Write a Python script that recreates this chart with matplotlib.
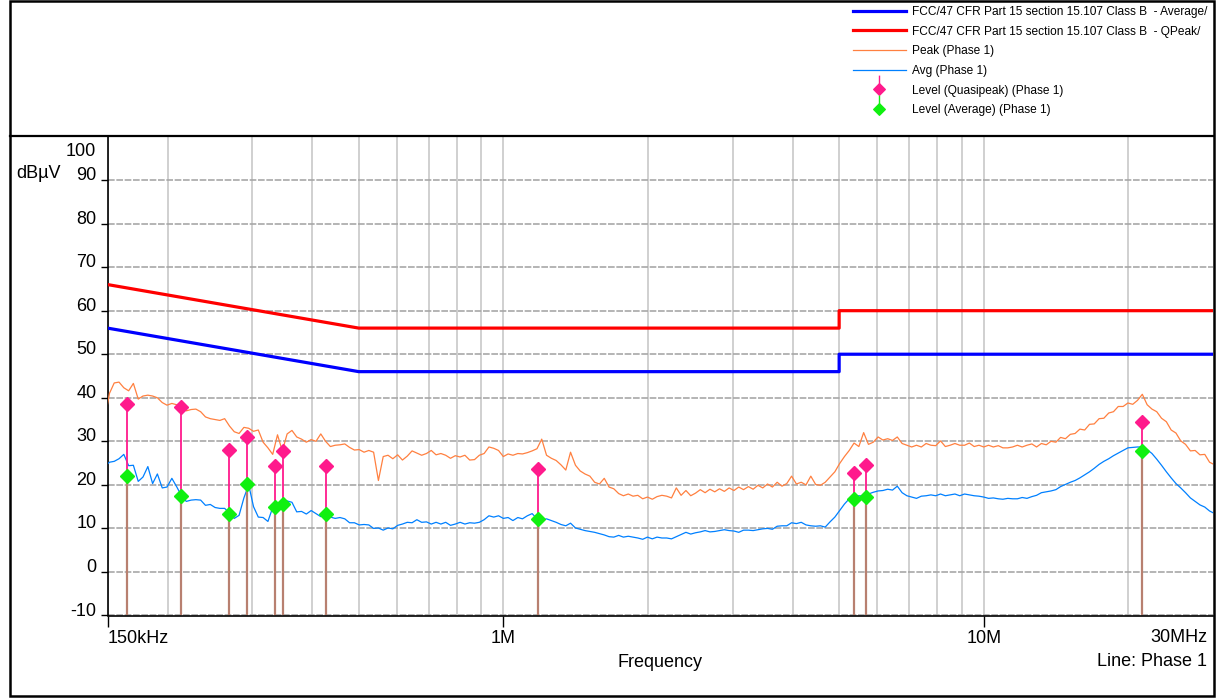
import matplotlib
matplotlib.use('Agg')
import matplotlib.pyplot as plt
from matplotlib.lines import Line2D
from matplotlib.patches import Rectangle
from matplotlib.path import Path
from matplotlib.ticker import NullFormatter

plt.rcParams['font.family'] = ['Liberation Sans', 'DejaVu Sans']

# Sweep frequencies (MHz)
freq_mhz = [
    0.15,
    0.1514, 0.1549, 0.1585, 0.1622, 0.1660, 0.1698, 0.1738, 0.1778, 0.1820, 0.1862,
    0.1905, 0.1950, 0.1995, 0.2042, 0.2089, 0.2138, 0.2188, 0.2239, 0.2291, 0.2344,
    0.2399, 0.2455, 0.2512, 0.2570, 0.2630, 0.2692, 0.2754, 0.2818, 0.2884, 0.2951,
    0.3020, 0.3090, 0.3162, 0.3236, 0.3311, 0.3388, 0.3467, 0.3548, 0.3631, 0.3715,
    0.3802, 0.3890, 0.3981, 0.4074, 0.4169, 0.4266, 0.4365, 0.4467, 0.4571, 0.4677,
    0.4786, 0.4898, 0.5012, 0.5129, 0.5248, 0.5370, 0.5495, 0.5623, 0.5754, 0.5888,
    0.6026, 0.6166, 0.6310, 0.6457, 0.6607, 0.6761, 0.6918, 0.7079, 0.7244, 0.7413,
    0.7586, 0.7762, 0.7943, 0.8128, 0.8318, 0.8511, 0.8710, 0.8913, 0.9120, 0.9333,
    0.9550, 0.9772,
    1.000, 1.023, 1.047, 1.072, 1.096, 1.122, 1.148, 1.175, 1.202, 1.230,
    1.259, 1.288, 1.318, 1.349, 1.380, 1.413, 1.445, 1.479, 1.514, 1.549,
    1.585, 1.622, 1.660, 1.698, 1.738, 1.778, 1.820, 1.862, 1.905, 1.950,
    1.995, 2.042, 2.089, 2.138, 2.188, 2.239, 2.291, 2.344, 2.399, 2.455,
    2.512, 2.570, 2.630, 2.692, 2.754, 2.818, 2.884, 2.951, 3.020, 3.090,
    3.162, 3.236, 3.311, 3.388, 3.467, 3.548, 3.631, 3.715, 3.802, 3.890,
    3.981, 4.074, 4.169, 4.266, 4.365, 4.467, 4.571, 4.677, 4.786, 4.898,
    5.012, 5.129, 5.248, 5.370, 5.495, 5.623, 5.754, 5.888, 6.026, 6.166,
    6.310, 6.457, 6.607, 6.761, 6.918, 7.079, 7.244, 7.413, 7.586, 7.762,
    7.943, 8.128, 8.318, 8.511, 8.710, 8.913, 9.120, 9.333, 9.550, 9.772,
    10.00, 10.23, 10.47, 10.72, 10.96, 11.22, 11.48, 11.75, 12.02, 12.30,
    12.59, 12.88, 13.18, 13.49, 13.80, 14.13, 14.45, 14.79, 15.14, 15.49,
    15.85, 16.22, 16.60, 16.98, 17.38, 17.78, 18.20, 18.62, 19.05, 19.50,
    19.95, 20.42, 20.89, 21.38, 21.88, 22.39, 22.91, 23.44, 23.99, 24.55,
    25.12, 25.70, 26.30, 26.92, 27.54, 28.18, 28.84, 29.51,
    30.0,
]

# Peak (Phase 1) trace, dBuV
peak_dbuv = [
    38.5,
    41.0, 43.4, 43.6, 42.3, 41.6, 43.3, 39.7, 40.4, 40.6, 40.4,
    40.0, 38.9, 38.3, 38.7, 38.4, 37.9, 37.0, 37.3, 37.4, 36.8,
    35.6, 35.2, 35.0, 34.8, 35.2, 33.5, 32.2, 31.8, 33.2, 33.0,
    32.3, 32.6, 29.8, 28.5, 27.0, 31.5, 27.8, 31.7, 32.5, 31.0,
    30.5, 29.8, 30.4, 30.0, 31.7, 30.0, 28.8, 29.1, 29.2, 29.4,
    28.6, 28.0, 28.1, 27.5, 27.9, 27.5, 21.0, 26.5, 26.8, 26.0,
    26.9, 25.7, 26.6, 27.8, 27.3, 26.8, 27.2, 27.9, 26.9, 27.2,
    26.8, 26.1, 26.7, 26.4, 26.8, 25.7, 25.8, 26.8, 27.2, 28.7,
    28.4, 27.9,
    26.5, 27.1, 26.8, 27.2, 27.1, 27.4, 27.8, 28.3, 30.5, 26.8,
    26.1, 25.6, 24.6, 23.4, 27.5, 24.5, 23.2, 22.5, 22.0, 20.6,
    20.2, 21.5, 19.5, 19.1, 18.0, 17.5, 17.9, 17.4, 17.6, 16.8,
    17.2, 16.7, 17.3, 17.6, 17.4, 17.0, 19.3, 17.6, 18.7, 17.5,
    18.1, 18.9, 18.2, 19.0, 18.4, 19.1, 18.5, 19.3, 18.7, 19.5,
    18.9, 19.6, 19.0, 19.9, 19.3, 20.2, 19.5, 20.6, 19.7, 20.3,
    22.0, 20.2, 20.6, 20.0, 22.0, 20.1, 19.9, 20.6, 21.8, 23.0,
    24.9, 26.5, 27.9, 29.6, 28.8, 32.0, 29.3, 29.8, 31.0, 30.3,
    30.6, 30.2, 31.0, 29.5, 29.1, 28.7, 29.1, 28.7, 29.5, 29.1,
    29.0, 30.1, 28.8, 29.1, 29.5, 29.1, 29.1, 29.6, 28.8, 29.1,
    28.7, 29.1, 28.7, 29.0, 28.5, 28.5, 28.7, 29.1, 28.7, 29.1,
    29.4, 28.7, 29.5, 29.2, 30.0, 29.8, 30.9, 30.6, 31.6, 31.8,
    32.8, 32.6, 33.9, 34.0, 35.2, 35.3, 36.5, 36.8, 38.0, 38.0,
    38.8, 38.5, 39.4, 40.8, 38.4, 37.4, 36.8, 35.3, 34.5, 32.6,
    31.9, 30.1, 29.3, 27.8, 27.9, 26.9, 27.0, 25.2,
    24.8,
]

# Avg (Phase 1) trace, dBuV
avg_dbuv = [
    24.8,
    25.2, 25.4, 26.0, 27.0, 24.4, 24.5, 20.8, 21.8, 24.2, 20.3,
    22.5, 19.3, 19.5, 21.5, 19.6, 17.5, 16.2, 16.5, 16.6, 16.5,
    15.3, 15.5, 14.8, 14.6, 14.6, 13.5, 12.3, 13.0, 17.0, 20.0,
    15.0, 12.6, 12.5, 11.6, 14.8, 15.3, 15.9, 16.3, 16.0, 13.8,
    13.9, 13.3, 14.1, 13.4, 12.7, 13.3, 12.6, 12.3, 12.5, 12.2,
    11.3, 11.3, 10.8, 10.9, 10.8, 10.0, 10.1, 9.6, 10.1, 9.9,
    10.7, 11.0, 11.4, 11.3, 12.0, 11.4, 11.5, 11.0, 11.4, 11.0,
    11.4, 10.7, 11.0, 11.4, 11.0, 11.3, 11.2, 11.4, 12.0, 12.9,
    12.6, 12.9,
    12.3, 12.5, 11.8, 12.5, 12.2, 12.9, 13.4, 12.2, 11.8, 12.2,
    11.8, 11.4, 10.9, 10.6, 11.2, 10.1, 9.8, 9.5, 9.3, 9.1,
    8.8, 8.5, 8.1, 8.0, 8.4, 8.0, 8.2, 8.0, 7.8, 7.5,
    8.0, 7.6, 8.0, 7.8, 7.8, 7.6, 8.1, 8.6, 9.1, 8.7,
    9.0, 9.2, 9.5, 9.2, 9.3, 9.5, 9.7, 9.5, 9.4, 9.1,
    9.6, 9.6, 9.5, 9.7, 9.9, 10.0, 9.8, 10.5, 10.6, 10.6,
    11.3, 11.1, 11.4, 10.8, 10.6, 10.5, 10.6, 10.3, 11.5, 12.6,
    14.1, 15.6, 16.8, 17.2, 17.5, 17.4, 17.9, 18.3, 18.6, 18.7,
    19.0, 18.8, 19.7, 18.2, 17.5, 17.2, 16.9, 17.4, 17.5, 17.7,
    17.5, 17.9, 17.5, 17.7, 17.9, 17.5, 17.9, 17.7, 17.5, 17.4,
    17.2, 16.9, 17.0, 16.8, 16.7, 16.9, 16.8, 16.8, 17.1, 16.9,
    17.3, 17.6, 18.2, 18.4, 18.6, 18.9, 19.6, 20.1, 20.6, 21.0,
    21.6, 22.3, 23.0, 23.8, 24.7, 25.4, 26.0, 26.7, 27.3, 27.9,
    28.5, 28.6, 28.7, 28.7, 28.1, 27.2, 25.9, 24.5, 23.0, 21.6,
    20.3, 19.3, 18.2, 17.0, 16.2, 15.4, 14.9, 14.0,
    13.6,
]

# FCC Part 15.107 Class B limit lines
limit_freq = [0.15, 0.5, 5, 5, 30]
qp_limit = [66, 56, 56, 60, 60]
av_limit = [56, 46, 46, 50, 50]

# Final measurement levels
meas_freq = [0.1649, 0.2130, 0.2681, 0.2922, 0.3354, 0.3474, 0.4277, 1.181, 5.363, 5.692, 21.36]
qp_level = [38.5, 37.9, 28.1, 31.1, 24.3, 27.8, 24.3, 23.6, 22.8, 24.6, 34.4]
av_level = [22.1, 17.4, 13.2, 20.2, 14.9, 15.7, 13.4, 12.1, 16.8, 17.2, 27.8]

y_ticks = [-10, 0, 10, 20, 30, 40, 50, 60, 70, 80, 90]
x_ticks = [0.15, 1, 10]
x_tick_labels = ['150kHz', '1M', '10M']
x_grid = [0.2, 0.3, 0.4, 0.5, 0.6, 0.7, 0.8, 0.9, 2, 3, 4, 5, 6, 7, 8, 9, 20]

c_qp_lim = '#ff0000'
c_av_lim = '#0000ff'
c_peak = '#ff8040'
c_avg = '#0080ff'
c_qp = '#ff1a8c'
c_av = '#10f010'
c_stem = '#b88070'

W, H = 1216, 698
fig = plt.figure(figsize=(W / 100, H / 100), dpi=100)
ax = fig.add_axes([107.5 / W, 1 - 615.5 / H, (1213 - 107.5) / W, (615.5 - 136.5) / H])

ax.set_xscale('log')
ax.set_xlim(0.15, 30)
ax.set_ylim(-10, 100)

# grid
ax.set_xticks(x_ticks)
ax.set_xticklabels(x_tick_labels)
ax.set_xticks(x_grid, minor=True)
ax.xaxis.set_minor_formatter(NullFormatter())
ax.set_yticks(y_ticks)
ax.set_yticklabels([str(v) for v in y_ticks])
ax.grid(axis='x', which='both', color='#c4c4c4', lw=1.1)
ax.grid(axis='y', which='major', color='#a8a8a8', lw=1.2, ls=(0, (4, 1)))
ax.tick_params(axis='x', which='major', length=8, width=1, direction='out', pad=2.5, labelsize=13)
ax.tick_params(axis='x', which='minor', length=0)
ax.tick_params(axis='y', length=5, width=1, direction='out', pad=3, labelsize=13)
ax.set_axisbelow(True)

for lab in ax.get_yticklabels():
    lab.set_va('baseline')
ax.get_xticklabels()[0].set_ha('left')

# end labels
ax.annotate('30MHz', xy=(1, 0), xycoords='axes fraction', xytext=(-6, -14),
            textcoords='offset pixels', ha='right', va='top', fontsize=13)
ax.text(-11.5 / 1105.5, 95.5, '100', transform=ax.get_yaxis_transform(), ha='right', va='baseline', fontsize=13)

for s in ['top', 'right']:
    ax.spines[s].set_visible(False)
ax.spines['left'].set_linewidth(1.2)
ax.spines['bottom'].set_linewidth(1.2)

# traces
ax.plot(freq_mhz, peak_dbuv, color=c_peak, lw=0.9, zorder=3)
ax.plot(freq_mhz, avg_dbuv, color=c_avg, lw=0.9, zorder=3)
ax.plot(limit_freq, av_limit, color=c_av_lim, lw=2.3, zorder=4)
ax.plot(limit_freq, qp_limit, color=c_qp_lim, lw=2.3, zorder=4)

# final measurements
ax.vlines(meas_freq, -10, qp_level, color=c_qp, lw=1.3, zorder=5)
ax.vlines(meas_freq, -10, av_level, color=c_stem, lw=1.6, zorder=5)
ax.plot(meas_freq, qp_level, 'D', color=c_qp, ms=7.5, zorder=6)
ax.plot(meas_freq, av_level, 'D', color=c_av, ms=7.5, zorder=6)

ax.set_xlabel('Frequency', fontsize=13, labelpad=5)

# legend
stem_marker = Path([(0, -1), (1, 0), (0, 1), (-1, 0), (0, -1), (0, 1), (0, 2.4)],
                   [Path.MOVETO, Path.LINETO, Path.LINETO, Path.LINETO, Path.CLOSEPOLY,
                    Path.MOVETO, Path.LINETO])
handles = [
    Line2D([], [], color=c_av_lim, lw=2.3),
    Line2D([], [], color=c_qp_lim, lw=2.3),
    Line2D([], [], color=c_peak, lw=0.9),
    Line2D([], [], color=c_avg, lw=0.9),
    Line2D([], [], ls='none', marker=stem_marker, color=c_qp, ms=20, mew=1),
    Line2D([], [], ls='none', marker=stem_marker, color=c_av, ms=20, mew=1),
]
labels = [
    'FCC/47 CFR Part 15 section 15.107 Class B  - Average/',
    'FCC/47 CFR Part 15 section 15.107 Class B  - QPeak/',
    'Peak (Phase 1)',
    'Avg (Phase 1)',
    'Level (Quasipeak) (Phase 1)',
    'Level (Average) (Phase 1)',
]
fig.legend(handles, labels, loc='upper left', bbox_to_anchor=(853 / W, 1 - 6 / H),
           frameon=False, fontsize=8.6, handlelength=4.4, handletextpad=0.5,
           labelspacing=0.64, borderpad=0, borderaxespad=0, numpoints=1)

fig.text(16 / W, 1 - 178 / H, 'dBµV', ha='left', va='baseline', fontsize=13)
fig.text(1207 / W, 1 - 662 / H, 'Line: Phase 1', ha='right', va='center', fontsize=13)

# frame and separator
fig.add_artist(Line2D([9.5 / W, 1213 / W], [1 - 136 / H, 1 - 136 / H], transform=fig.transFigure,
                      color='black', lw=1.6))
fig.add_artist(Rectangle((9.5 / W, 2 / H), (1213.5 - 9.5) / W, (697 - 2) / H, transform=fig.transFigure,
                         fill=False, edgecolor='black', lw=1.8))

fig.savefig('out.png', dpi=100)
